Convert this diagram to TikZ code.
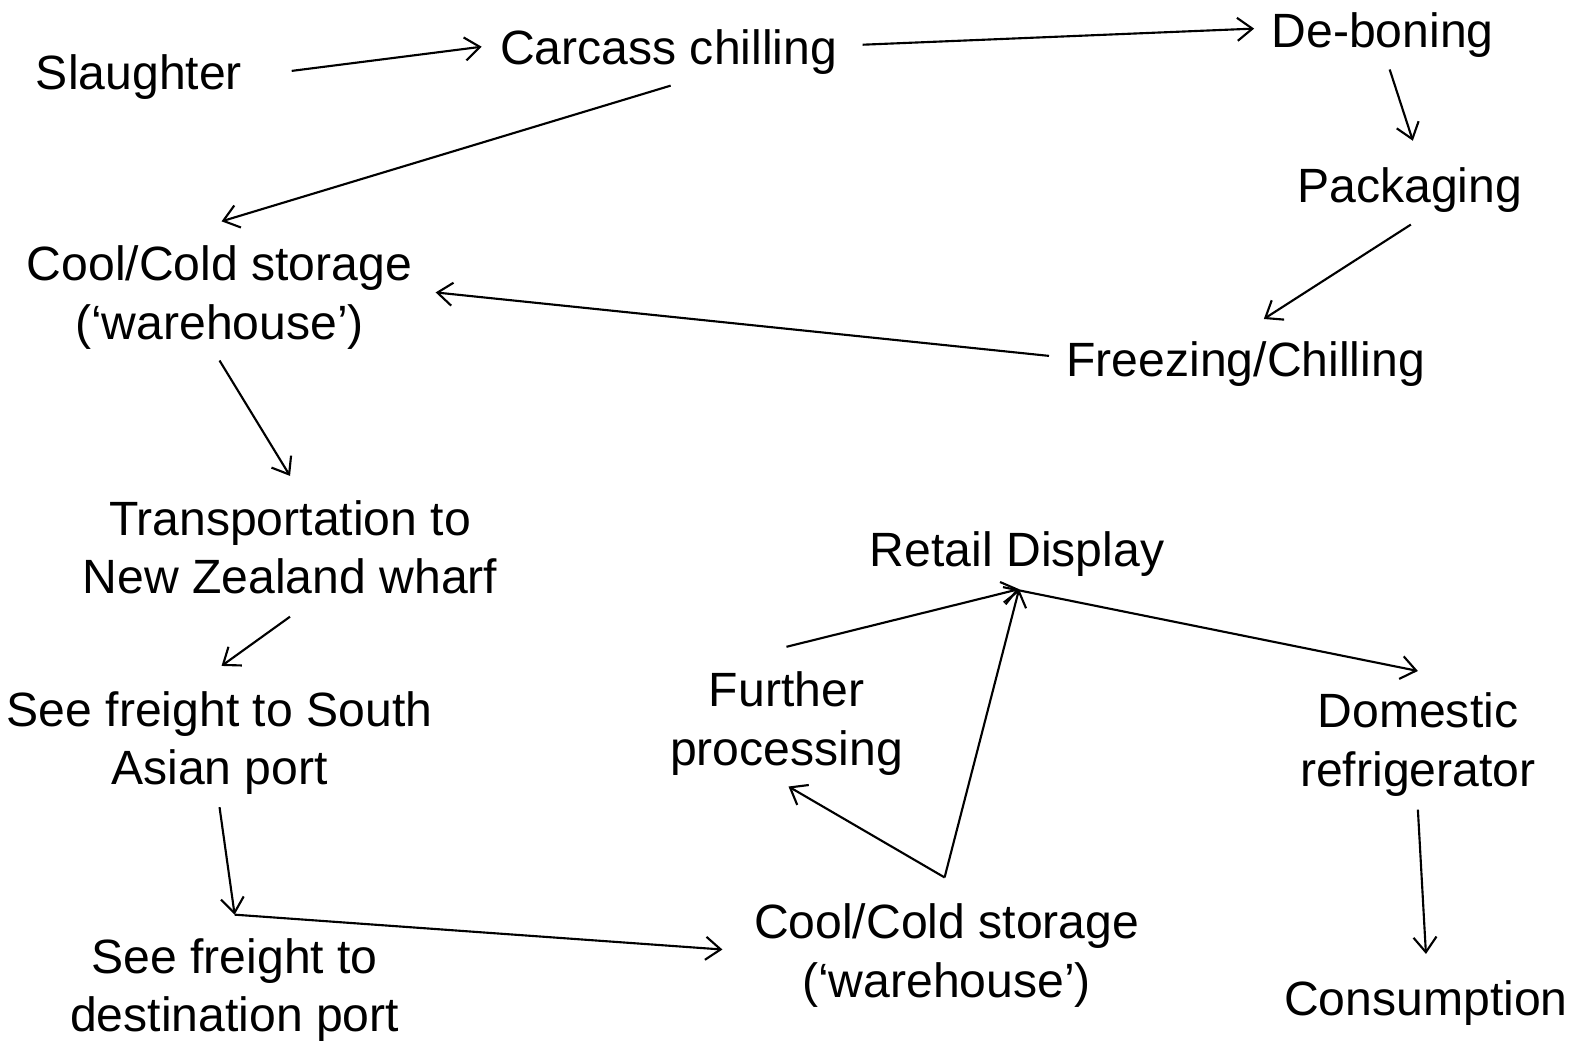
\documentclass[tikz,border=0pt]{standalone}
\usepackage{fontspec}
\setmainfont{Liberation Sans}
\usetikzlibrary{arrows.meta}
\tikzset{
  stage/.style={font=\fontsize{27.2}{33}\selectfont, align=center, inner sep=0pt},
  flow/.style={->, line width=1.2pt},
  >={Straight Barb[length=8.5pt,width=13pt]}
}
\begin{document}
\begin{tikzpicture}[x=0.02cm,y=-0.02cm]
      \useasboundingbox (0,0) rectangle (1568,1035);
      % chain at the plant
      \node[stage] (slaughter) at (138,76.4) {Slaughter};
      \node[stage] (carcass) at (664,51.4) {Carcass chilling};
      \node[stage] (deboning) at (1373,34.4) {De-boning};
      \node[stage] (packaging) at (1400,188.4) {Packaging};
      \node[stage] (freezing) at (1237,361.4) {Freezing/Chilling};
      \node[stage] (store) at (218,295.4) {Cool/Cold storage\\(`warehouse')};
      % export
      \node[stage] (transport) at (288,543.5) {Transportation to\\New Zealand wharf};
      \node[stage] (southasia) at (218,737.9) {See freight to South\\Asian port};
      \node[stage] (destport) at (233,982.9) {See freight to\\destination port};
      % at destination
      \node[stage] (warehouse) at (940,948.9) {Cool/Cold storage\\(`warehouse')};
      \node[stage] (further) at (781,718.4) {Further\\processing};
      \node[stage] (retail) at (1010,550.4) {Retail Display};
      \node[stage] (fridge) at (1408,739.4) {Domestic\\refrigerator};
      \node[stage] (consumption) at (1416,996.4) {Consumption};

      \draw[flow] ([shift={(49,-6)}]slaughter.east) -- ([shift={(-18,-5)}]carcass.west);
      \draw[flow] ([shift={(25,-7)}]carcass.east) -- ([shift={(-17,-6)}]deboning.west);
      \draw[flow] ([shift={(7,12)}]deboning.south) -- ([shift={(3,-26)}]packaging.north);
      \draw[flow] ([shift={(1,12)}]packaging.south) -- ([shift={(18,-22)}]freezing.north);
      \draw[flow] ([shift={(-17,-8)}]freezing.west) -- ([shift={(23,-5)}]store.east);
      \draw[flow] ([shift={(2,11)}]carcass.south) -- ([shift={(2,-24)}]store.north);
      \draw[flow] ([shift={(0,11)}]store.south) -- ([shift={(0,-24)}]transport.north);
      \draw[flow] ([shift={(0,22)}]transport.south) -- ([shift={(2,-25)}]southasia.north);
      \draw[flow] ([shift={(0,12)}]southasia.south) -- ([shift={(0,-23)}]destport.north);
      \draw[flow] ([shift={(0,-23)}]destport.north) -- ([shift={(-31,-6)}]warehouse.west);
      \draw[flow] ([shift={(-2,-26)}]warehouse.north) -- ([shift={(2,11)}]further.south);
      \draw[flow] ([shift={(-2,-26)}]warehouse.north) -- ([shift={(2,12)}]retail.south);
      \draw[flow] ([shift={(0,-24.5)}]further.north) -- ([shift={(2,12)}]retail.south);
      \draw[flow] ([shift={(-14,10)}]retail.south) -- ([shift={(0,-21.5)}]fridge.north);
      \draw[flow] ([shift={(0,13)}]fridge.south) -- ([shift={(0,-26.5)}]consumption.north);
\end{tikzpicture}
\end{document}
